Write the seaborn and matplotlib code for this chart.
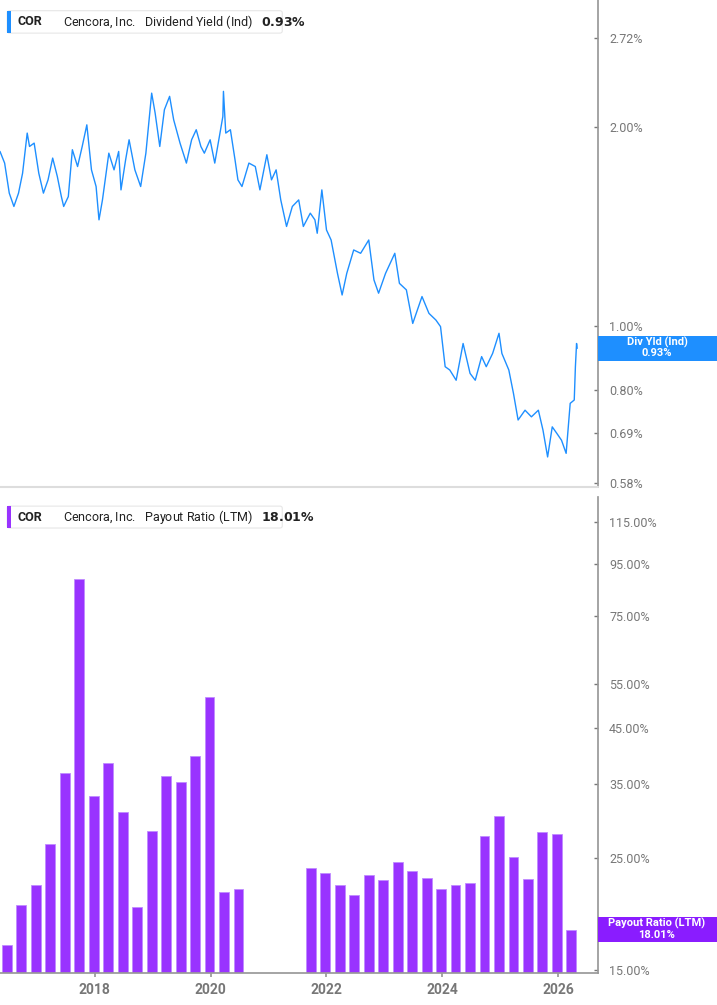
import numpy as np
import pandas as pd
import seaborn as sns
import matplotlib.pyplot as plt
from matplotlib.patches import Rectangle, FancyBboxPatch

# dividend yield (%), dates as fractional years
yld_dates = [2016.36, 2016.44, 2016.52, 2016.60, 2016.68, 2016.75, 2016.83, 2016.87, 2016.95, 2017.03,
             2017.11, 2017.19, 2017.27, 2017.35, 2017.42, 2017.46, 2017.54, 2017.61, 2017.70, 2017.78,
             2017.86, 2017.94, 2018.02, 2018.07, 2018.13, 2018.24, 2018.33, 2018.41, 2018.45, 2018.53,
             2018.59, 2018.69, 2018.79, 2018.88, 2018.98, 2019.04, 2019.12, 2019.20, 2019.29, 2019.36,
             2019.47, 2019.58, 2019.67, 2019.75, 2019.83, 2019.89, 2019.99, 2020.07, 2020.14, 2020.21,
             2020.22, 2020.26, 2020.34, 2020.42, 2020.47, 2020.54, 2020.66, 2020.77, 2020.85, 2020.97,
             2021.05, 2021.13, 2021.21, 2021.31, 2021.41, 2021.52, 2021.60, 2021.72, 2021.80, 2021.84,
             2021.92, 2022.00, 2022.08, 2022.19, 2022.27, 2022.35, 2022.47, 2022.59, 2022.73, 2022.82,
             2022.90, 2023.02, 2023.18, 2023.26, 2023.38, 2023.49, 2023.65, 2023.77, 2023.89, 2023.97,
             2024.05, 2024.13, 2024.24, 2024.36, 2024.48, 2024.57, 2024.68, 2024.76, 2024.87, 2024.98,
             2025.03, 2025.15, 2025.23, 2025.31, 2025.43, 2025.54, 2025.66, 2025.74, 2025.82, 2025.90,
             2025.98, 2026.06, 2026.14, 2026.21, 2026.28, 2026.30, 2026.32, 2026.33]
yld_vals = [1.836, 1.763, 1.588, 1.516, 1.588, 1.702, 1.957, 1.868, 1.890, 1.702,
            1.588, 1.663, 1.794, 1.683, 1.569, 1.516, 1.569, 1.847, 1.742, 1.868,
            2.014, 1.722, 1.625, 1.447, 1.551, 1.825, 1.722, 1.836, 1.606, 1.783,
            1.912, 1.722, 1.625, 1.825, 2.249, 2.098, 1.868, 2.123, 2.224, 2.050,
            1.890, 1.763, 1.912, 1.980, 1.868, 1.825, 1.912, 1.763, 1.912, 2.074,
            2.263, 1.957, 1.980, 1.783, 1.663, 1.625, 1.763, 1.742, 1.606, 1.815,
            1.663, 1.722, 1.551, 1.414, 1.516, 1.551, 1.414, 1.481, 1.447, 1.381,
            1.606, 1.397, 1.349, 1.201, 1.114, 1.201, 1.303, 1.288, 1.349, 1.174,
            1.121, 1.201, 1.288, 1.160, 1.134, 1.009, 1.108, 1.045, 1.021, 0.998,
            0.868, 0.858, 0.828, 0.941, 0.848, 0.828, 0.899, 0.868, 0.909, 0.975,
            0.909, 0.858, 0.791, 0.721, 0.746, 0.729, 0.746, 0.696, 0.634, 0.704,
            0.688, 0.672, 0.642, 0.764, 0.773, 0.868, 0.941, 0.925]

# payout ratio (LTM, %) quarterly bars
pay_dates = [2016.48, 2016.73, 2016.98, 2017.23, 2017.48, 2017.73, 2017.98, 2018.23, 2018.48,
             2018.73, 2018.98, 2019.23, 2019.48, 2019.73, 2019.98, 2020.23, 2020.48,
             2021.73, 2021.98, 2022.23, 2022.48, 2022.73, 2022.98, 2023.23, 2023.48, 2023.73,
             2023.98, 2024.23, 2024.48, 2024.73, 2024.98, 2025.23, 2025.48, 2025.73, 2025.98, 2026.23]
pay_vals = [16.8, 20.2, 22.1, 26.6, 36.7, 88.5, 33.1, 38.4, 30.7,
            20.0, 28.2, 36.2, 35.3, 39.7, 52.0, 21.4, 21.7,
            23.8, 23.3, 22.1, 21.1, 23.1, 22.6, 24.5, 23.5, 22.8,
            21.7, 22.1, 22.3, 27.6, 30.2, 25.1, 22.7, 28.1, 27.9, 18.01]

yld_ticks = [0.58, 0.69, 0.80, 1.00, 2.00, 2.72]
pay_ticks = [15, 25, 35, 45, 55, 75, 95, 115]
year_ticks = [2018, 2020, 2022, 2024, 2026]

BLUE = '#1E8FFF'
PURPLE = '#9933FF'
GREY = '#777777'

sns.set_theme(style='white')
plt.rcParams['font.family'] = ['Roboto', 'DejaVu Sans']

fig = plt.figure(figsize=(7.17, 10.05), dpi=100)
ax1 = fig.add_axes([0, 0.5154, 0.834, 0.4846])
ax2 = fig.add_axes([0, 0.0318, 0.834, 0.4736])

xlim = (2016.36, 2026.69)

# top: dividend yield line
df_y = pd.DataFrame({'date': yld_dates, 'yield': yld_vals})
sns.lineplot(data=df_y, x='date', y='yield', ax=ax1, color=BLUE, lw=1.0)
ax1.set_yscale('log')
ax1.set_ylim(0.571, 3.11)
ax1.set_xlim(*xlim)

# bottom: payout ratio bars
ax2.bar(pay_dates, pay_vals, width=0.17, color=PURPLE, edgecolor='#C08CFF', linewidth=0.6,
        bottom=0)
ax2.set_yscale('log')
ax2.set_ylim(14.8, 128.7)
ax2.set_xlim(*xlim)

for ax, ticks in ((ax1, yld_ticks), (ax2, pay_ticks)):
    ax.yaxis.tick_right()
    ax.set_yticks(ticks)
    ax.set_yticklabels([f'{t:.2f}%' for t in ticks])
    ax.yaxis.set_minor_locator(plt.NullLocator())
    ax.tick_params(axis='y', colors=GREY, labelsize=9, length=3, width=1, pad=8, direction='in',
                   right=True)
    ax.set_xlabel('')
    ax.set_ylabel('')
    for s in ('left', 'top'):
        ax.spines[s].set_visible(False)
    ax.spines['right'].set_color('#999999')
    ax.spines['bottom'].set_color('#cccccc')

ax1.set_xticks([])
ax2.set_xticks(year_ticks)
ax2.set_xticklabels([str(y) for y in year_ticks], fontsize=10, fontweight='bold', color=GREY)
ax2.tick_params(axis='x', bottom=True, length=3, color='#999999', pad=4)
ax2.spines['bottom'].set_color('#999999')

# legend boxes
def legend_box(ax, y0, color, label, value):
    ax.add_patch(FancyBboxPatch((0.012, y0), 0.46, 0.046, transform=ax.transAxes,
                                boxstyle='round,pad=0,rounding_size=0.004',
                                fc='white', ec='#e6e6e6', lw=0.8, clip_on=False, zorder=5))
    ax.add_patch(Rectangle((0.012, y0), 0.006, 0.046, transform=ax.transAxes,
                           fc=color, ec='none', clip_on=False, zorder=6))
    ax.text(0.03, y0 + 0.023, 'COR', transform=ax.transAxes, fontsize=9, fontweight='bold',
            va='center', color='#222222', zorder=7)
    ax.text(0.105, y0 + 0.023, 'Cencora, Inc.   ' + label + '   ' + value, transform=ax.transAxes,
            fontsize=9, va='center', color='#222222', zorder=7)

legend_box(ax1, 0.932, BLUE, 'Dividend Yield (Ind)', r'$\bf{0.93\%}$')
legend_box(ax2, 0.935, PURPLE, 'Payout Ratio (LTM)', r'$\bf{18.01\%}$')

# value badges on the right
fig.patches.append(Rectangle((598 / 717, 1 - 361 / 1005), 119 / 717, 25 / 1005,
                             transform=fig.transFigure, fc=BLUE, ec='none', zorder=10))
fig.text(657 / 717, 1 - 342 / 1005, 'Div Yld (Ind)', ha='center', va='center', color='white',
         fontsize=8, fontweight='bold', zorder=11)
fig.text(657 / 717, 1 - 353 / 1005, '0.93%', ha='center', va='center', color='white',
         fontsize=8, fontweight='bold', zorder=11)
fig.patches.append(Rectangle((598 / 717, 1 - 942 / 1005), 119 / 717, 25 / 1005,
                             transform=fig.transFigure, fc='#8A1CFF', ec='none', zorder=10))
fig.text(657 / 717, 1 - 923 / 1005, 'Payout Ratio (LTM)', ha='center', va='center', color='white',
         fontsize=8, fontweight='bold', zorder=11)
fig.text(657 / 717, 1 - 935 / 1005, '18.01%', ha='center', va='center', color='white',
         fontsize=8, fontweight='bold', zorder=11)

# separator between panels
fig.add_artist(plt.Line2D([0, 598 / 717], [1 - 487 / 1005] * 2, color='#dddddd', lw=1.5,
                          transform=fig.transFigure))

fig.savefig('out.png', dpi=100)
